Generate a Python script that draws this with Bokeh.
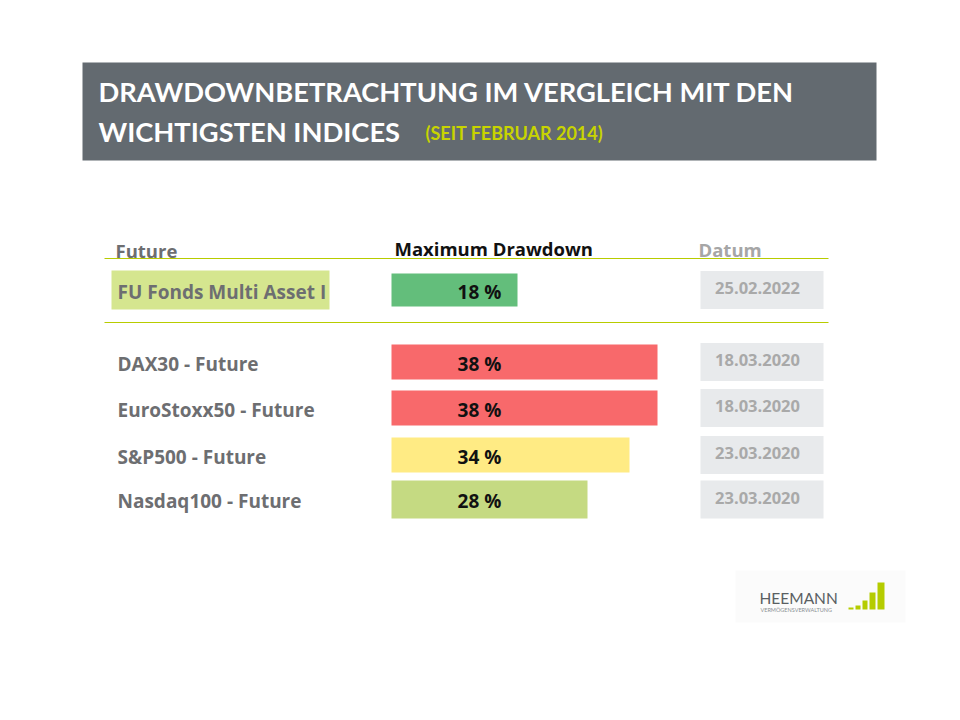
from bokeh.plotting import figure
from bokeh.models import Range1d, ColumnDataSource
from bokeh.core.properties import value
from bokeh.embed import file_html
from bokeh.resources import INLINE

# ---------------- data ----------------
names = ["FU Fonds Multi Asset I", "DAX30 - Future", "EuroStoxx50 - Future",
         "S&P500 - Future", "Nasdaq100 - Future"]
drawdown = [18, 38, 38, 34, 28]
dates = ["25.02.2022", "18.03.2020", "18.03.2020", "23.03.2020", "23.03.2020"]
bar_colors = ["#63be7b", "#f8696b", "#f8696b", "#ffeb84", "#c5da82"]
headers = ["Future", "Maximum Drawdown", "Datum"]
title_lines = ["DRAWDOWNBETRACHTUNG IM VERGLEICH MIT DEN", "WICHTIGSTEN INDICES"]
subtitle = "(SEIT FEBRUAR 2014)"

# ---------------- layout (page pixel coordinates) ----------------
row_y = [289.5, 361.5, 407.5, 454.5, 499.0]
bar_h = [33, 35, 35, 35, 38]
bar_x0 = 391.0
px_per_pct = 7.0

W, H = 944, 704
p = figure(width=W, height=H, output_backend="svg", toolbar_location=None,
           x_range=Range1d((0 - bar_x0) / px_per_pct, (W - bar_x0) / px_per_pct),
           y_range=Range1d(H, 0), min_border=0)
p.extra_x_ranges = {"px": Range1d(0, W)}
p.axis.visible = False
p.xgrid.visible = False
p.ygrid.visible = False
p.outline_line_color = None
p.background_fill_color = "white"
p.border_fill_color = "white"

FONT = value("Open Sans")
TFONT = value("Lato")

# header banner
p.quad(left=[82], right=[876], top=[62], bottom=[160], fill_color="#636a70",
       line_color=None, x_range_name="px")
p.text(x=[98, 98], y=[91, 131], text=title_lines, text_color="white",
       text_font=TFONT, text_font_size="27.3px", text_font_style="bold",
       text_baseline="middle", x_range_name="px")
p.text(x=[425], y=[132], text=[subtitle], text_color="#c8d400",
       text_font=TFONT, text_font_size="18px", text_font_style="bold",
       text_baseline="middle", x_range_name="px")

# column headers
p.text(x=[115, 394, 698], y=[250, 248, 249], text=headers,
       text_color=["#6d6e71", "#111111", "#a6a6a6"],
       text_font=FONT, text_font_size="18.5px", text_font_style="bold",
       text_baseline="middle", x_range_name="px")

# separator lines
p.segment(x0=[104, 104], x1=[828, 828], y0=[258, 322], y1=[258, 322],
          line_color="#b8cc00", line_width=1, x_range_name="px")

# highlight box behind fund name
p.quad(left=[111], right=[329], top=[270], bottom=[309], fill_color="#d5e68f",
       line_color=None, x_range_name="px")

# date boxes
p.quad(left=[700] * 5, right=[823] * 5,
       top=[y - 19 for y in row_y], bottom=[y + 19 for y in row_y],
       fill_color="#e8eaec", line_color=None, x_range_name="px")

# bars from data
src = ColumnDataSource(dict(y=row_y, v=drawdown, h=bar_h, c=bar_colors,
                            lab=[f"{v} %" for v in drawdown],
                            name=names, date=dates,
                            ty=[y + 1.5 for y in row_y],
                            dy=[y - 2 for y in row_y]))
p.hbar(y="y", left=0, right="v", height="h", fill_color="c", line_color=None,
       source=src)

# labels
p.text(x=117, y="ty", text="name", text_color="#6d6e71",
       text_font=FONT, text_font_size="19px", text_font_style="bold",
       text_baseline="middle", x_range_name="px", source=src)
p.text(x=479, y="ty", text="lab", text_color="#111111",
       text_font=FONT, text_font_size="19px", text_font_style="bold",
       text_align="center", text_baseline="middle", x_range_name="px", source=src)
p.text(x=757, y="dy", text="date", text_color="#a9a9a9",
       text_font=FONT, text_font_size="16.5px", text_font_style="bold",
       text_align="center", text_baseline="middle", x_range_name="px", source=src)

# logo
p.quad(left=[735], right=[905], top=[570], bottom=[622], fill_color="#fbfbfb",
       line_color=None, x_range_name="px")
p.text(x=[759], y=[597], text=["HEEMANN"], text_color="#5a5f63",
       text_font=TFONT, text_font_size="15.5px", text_baseline="middle",
       x_range_name="px")
p.text(x=[760], y=[609], text=["VERMÖGENSVERWALTUNG"], text_color="#8a8f93",
       text_font=TFONT, text_font_size="5.5px", text_baseline="middle",
       x_range_name="px")
p.quad(left=[848, 855, 862, 869, 877], right=[853, 860, 867, 875, 884],
       top=[607, 605, 600, 592, 582], bottom=[609] * 5,
       fill_color="#b5cc00", line_color=None, x_range_name="px")

open("out.html", "w").write(file_html(p, INLINE))
